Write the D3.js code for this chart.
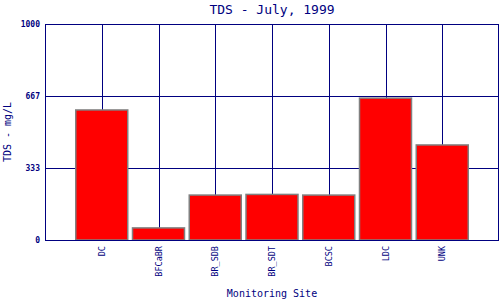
<!DOCTYPE html>
<html>
<head>
<meta charset="utf-8">
<script src="https://cdn.jsdelivr.net/npm/d3@7"></script>
<style>
  body { margin: 0; background: #fff; }
  text { font-family: "DejaVu Sans Mono", "Liberation Mono", monospace; fill: #000080; }
</style>
</head>
<body>
<div id="chart"></div>
<script>
// data
let sites = ["DC", "BFCaBR", "BR_SDB", "BR_SDT", "BCSC", "LDC", "UNK"];
let tds = [602, 56, 208, 211, 208, 657, 440];
let yTicks = [0, 333, 667, 1000];

let W = 500, H = 300;
let margin = { top: 24, right: 1, bottom: 60, left: 45 };

let svg = d3.select("#chart").append("svg")
  .attr("width", W).attr("height", H);

let x = d3.scalePoint().domain(sites)
  .range([margin.left, W - margin.right]).padding(1);
let y = d3.scaleLinear().domain([0, 1000])
  .range([H - margin.bottom, margin.top]);

let navy = "#000080";

// grid lines
svg.append("g").selectAll("line.h").data(yTicks).enter().append("line")
  .attr("x1", margin.left).attr("x2", W - margin.right)
  .attr("y1", d => Math.round(y(d)) + 0.5).attr("y2", d => Math.round(y(d)) + 0.5)
  .attr("stroke", navy).attr("stroke-width", 1);

svg.append("g").selectAll("line.v").data(sites).enter().append("line")
  .attr("x1", d => Math.round(x(d)) + 0.5).attr("x2", d => Math.round(x(d)) + 0.5)
  .attr("y1", y(1000)).attr("y2", y(0))
  .attr("stroke", navy).attr("stroke-width", 1);

// frame
svg.append("rect")
  .attr("x", margin.left + 0.5).attr("y", margin.top + 0.5)
  .attr("width", W - margin.right - margin.left - 1)
  .attr("height", y(0) - margin.top)
  .attr("fill", "none").attr("stroke", navy).attr("stroke-width", 1);

// bars
let bw = 52;
svg.append("g").selectAll("rect").data(tds).enter().append("rect")
  .attr("x", (d, i) => x(sites[i]) - bw / 2)
  .attr("y", d => y(d))
  .attr("width", bw)
  .attr("height", d => y(0) - y(d))
  .attr("fill", "#ff0000")
  .attr("stroke", "#808080").attr("stroke-width", 1.5);

// bottom axis line on top of bars
svg.append("line")
  .attr("x1", margin.left).attr("x2", W - margin.right)
  .attr("y1", y(0) + 0.5).attr("y2", y(0) + 0.5)
  .attr("stroke", navy).attr("stroke-width", 1);

// y tick labels
svg.append("g").selectAll("text").data(yTicks).enter().append("text")
  .attr("x", 40).attr("y", d => y(d) + 3)
  .attr("text-anchor", "end")
  .style("font-size", "8px").style("font-weight", "bold")
  .text(d => d);

// x tick labels
svg.append("g").selectAll("text").data(sites).enter().append("text")
  .attr("transform", d => "translate(" + (x(d) + 3) + "," + (y(0) + 6) + ") rotate(-90)")
  .attr("text-anchor", "end")
  .style("font-size", "8.5px")
  .text(d => d);

// titles
svg.append("text")
  .attr("x", (margin.left + W - margin.right) / 2).attr("y", 14)
  .attr("text-anchor", "middle")
  .style("font-size", "13px")
  .text("TDS - July, 1999");

svg.append("text")
  .attr("x", (margin.left + W - margin.right) / 2).attr("y", 297)
  .attr("text-anchor", "middle")
  .style("font-size", "10px")
  .text("Monitoring Site");

svg.append("text")
  .attr("transform", "translate(11," + ((margin.top + y(0)) / 2) + ") rotate(-90)")
  .attr("text-anchor", "middle")
  .style("font-size", "10px")
  .text("TDS - mg/L");
</script>
</body>
</html>
